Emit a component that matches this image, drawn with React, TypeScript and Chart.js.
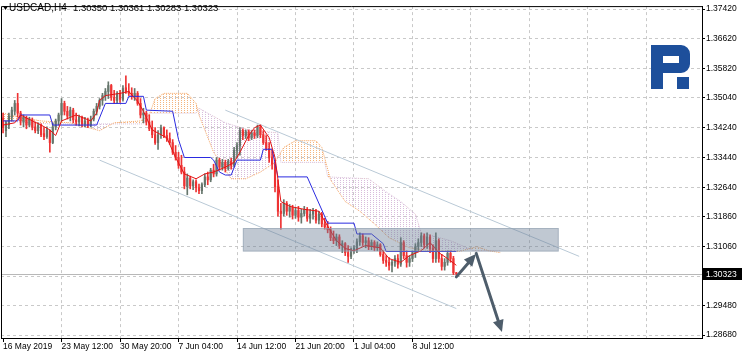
import React, { useEffect, useRef } from 'react';
import { Chart, registerables } from 'chart.js';

Chart.register(...registerables);

// ---- Header / axis text ----
const symbolLabel = 'USDCAD,H4';
const headerQuote = '1.30350 1.30361 1.30283 1.30323';
const lastPrice = 1.30323;
const lastPriceLabel = '1.30323';

// x axis: bar index ticks (one label every 20 bars)
const xTickIndex = [0, 20, 40, 60, 80, 100, 120, 140, 160, 180, 200, 220];
const xTickLabels = ['16 May 2019', '23 May 12:00', '30 May 20:00', '7 Jun 04:00', '14 Jun 12:00', '21 Jun 20:00', '1 Jul 04:00', '8 Jul 12:00'];

// y axis ticks (MT4 style)
const yTickValues = [1.3742, 1.3662, 1.3582, 1.3504, 1.3424, 1.3344, 1.3264, 1.3186, 1.3106, 1.3026, 1.2948, 1.2868];
const yTickLabels = ['1.37420', '1.36620', '1.35820', '1.35040', '1.34240', '1.33440', '1.32640', '1.31860', '1.31060', '', '1.29480', '1.28680'];

// ---- H4 bars ----
const opens = [
  1.3450, 1.3416, 1.3431, 1.3452, 1.3468, 1.3489, 1.3463, 1.3439, 1.3450, 1.3431,
  1.3445, 1.3426, 1.3416, 1.3431, 1.3408, 1.3400, 1.3416, 1.3384, 1.3426, 1.3442,
  1.3458, 1.3489, 1.3468, 1.3455, 1.3471, 1.3445, 1.3439, 1.3452, 1.3434, 1.3442,
  1.3431, 1.3447, 1.3468, 1.3481, 1.3497, 1.3510, 1.3521, 1.3537, 1.3505, 1.3497,
  1.3516, 1.3500, 1.3531, 1.3521, 1.3516, 1.3508, 1.3516, 1.3489, 1.3458, 1.3463,
  1.3439, 1.3421, 1.3405, 1.3384, 1.3405, 1.3424, 1.3403, 1.3395, 1.3384, 1.3358,
  1.3344, 1.3323, 1.3305, 1.3266, 1.3289, 1.3268, 1.3279, 1.3263, 1.3255, 1.3271,
  1.3292, 1.3284, 1.3310, 1.3300, 1.3337, 1.3318, 1.3331, 1.3315, 1.3334, 1.3323,
  1.3363, 1.3376, 1.3416, 1.3403, 1.3413, 1.3397, 1.3410, 1.3403, 1.3426, 1.3405,
  1.3384, 1.3368, 1.3344, 1.3326, 1.3266, 1.3200, 1.3194, 1.3221, 1.3200, 1.3210,
  1.3189, 1.3202, 1.3184, 1.3194, 1.3205, 1.3181, 1.3192, 1.3200, 1.3176, 1.3192,
  1.3166, 1.3158, 1.3150, 1.3129, 1.3121, 1.3131, 1.3108, 1.3113, 1.3089, 1.3079,
  1.3094, 1.3100, 1.3118, 1.3134, 1.3116, 1.3121, 1.3105, 1.3116, 1.3102, 1.3110,
  1.3084, 1.3068, 1.3063, 1.3055, 1.3063, 1.3073, 1.3058, 1.3116, 1.3081, 1.3063,
  1.3073, 1.3089, 1.3105, 1.3116, 1.3134, 1.3110, 1.3131, 1.3100, 1.3073, 1.3121,
  1.3073, 1.3052, 1.3063, 1.3087, 1.3073, 1.30350,
];
const highs = [
  1.3463, 1.3442, 1.3463, 1.3479, 1.3497, 1.3516, 1.3468, 1.3458, 1.3455, 1.3452,
  1.3450, 1.3439, 1.3437, 1.3434, 1.3424, 1.3426, 1.3418, 1.3437, 1.3447, 1.3463,
  1.3502, 1.3495, 1.3481, 1.3479, 1.3476, 1.3463, 1.3458, 1.3455, 1.3452, 1.3450,
  1.3455, 1.3474, 1.3489, 1.3502, 1.3516, 1.3529, 1.3547, 1.3540, 1.3524, 1.3521,
  1.3524, 1.3537, 1.3563, 1.3542, 1.3531, 1.3529, 1.3521, 1.3502, 1.3476, 1.3468,
  1.3458, 1.3442, 1.3424, 1.3416, 1.3431, 1.3426, 1.3418, 1.3410, 1.3392, 1.3376,
  1.3358, 1.3350, 1.3318, 1.3300, 1.3294, 1.3284, 1.3284, 1.3273, 1.3276, 1.3300,
  1.3305, 1.3315, 1.3326, 1.3344, 1.3342, 1.3339, 1.3337, 1.3339, 1.3342, 1.3371,
  1.3384, 1.3424, 1.3421, 1.3418, 1.3418, 1.3416, 1.3418, 1.3431, 1.3431, 1.3416,
  1.3403, 1.3384, 1.3363, 1.3331, 1.3284, 1.3221, 1.3231, 1.3226, 1.3218, 1.3216,
  1.3210, 1.3213, 1.3205, 1.3213, 1.3210, 1.3205, 1.3208, 1.3205, 1.3200, 1.3197,
  1.3181, 1.3173, 1.3158, 1.3147, 1.3139, 1.3137, 1.3121, 1.3116, 1.3108, 1.3102,
  1.3108, 1.3126, 1.3142, 1.3139, 1.3131, 1.3129, 1.3123, 1.3121, 1.3118, 1.3113,
  1.3094, 1.3081, 1.3076, 1.3068, 1.3081, 1.3084, 1.3129, 1.3121, 1.3094, 1.3081,
  1.3094, 1.3113, 1.3126, 1.3142, 1.3139, 1.3142, 1.3137, 1.3110, 1.3142, 1.3126,
  1.3084, 1.3073, 1.3094, 1.3094, 1.3079, 1.30361,
];
const lows = [
  1.3410, 1.3400, 1.3421, 1.3442, 1.3458, 1.3452, 1.3431, 1.3426, 1.3421, 1.3426,
  1.3418, 1.3410, 1.3408, 1.3400, 1.3392, 1.3395, 1.3358, 1.3381, 1.3418, 1.3431,
  1.3442, 1.3458, 1.3447, 1.3442, 1.3437, 1.3431, 1.3429, 1.3426, 1.3426, 1.3424,
  1.3426, 1.3442, 1.3458, 1.3474, 1.3484, 1.3497, 1.3502, 1.3497, 1.3489, 1.3489,
  1.3492, 1.3495, 1.3516, 1.3510, 1.3500, 1.3497, 1.3484, 1.3450, 1.3437, 1.3431,
  1.3416, 1.3397, 1.3379, 1.3366, 1.3395, 1.3397, 1.3387, 1.3379, 1.3352, 1.3337,
  1.3315, 1.3300, 1.3260, 1.3244, 1.3260, 1.3258, 1.3252, 1.3247, 1.3247, 1.3266,
  1.3271, 1.3279, 1.3292, 1.3294, 1.3310, 1.3310, 1.3305, 1.3310, 1.3313, 1.3318,
  1.3344, 1.3350, 1.3392, 1.3395, 1.3389, 1.3392, 1.3395, 1.3397, 1.3397, 1.3379,
  1.3363, 1.3331, 1.3313, 1.3252, 1.3187, 1.3152, 1.3187, 1.3189, 1.3184, 1.3179,
  1.3181, 1.3173, 1.3168, 1.3187, 1.3173, 1.3168, 1.3179, 1.3168, 1.3166, 1.3158,
  1.3152, 1.3142, 1.3121, 1.3113, 1.3108, 1.3100, 1.3089, 1.3081, 1.3063, 1.3073,
  1.3087, 1.3089, 1.3108, 1.3108, 1.3102, 1.3097, 1.3097, 1.3094, 1.3094, 1.3079,
  1.3060, 1.3052, 1.3042, 1.3037, 1.3052, 1.3047, 1.3052, 1.3073, 1.3050, 1.3052,
  1.3065, 1.3076, 1.3094, 1.3105, 1.3102, 1.3100, 1.3089, 1.3063, 1.3063, 1.3063,
  1.3042, 1.3042, 1.3055, 1.3063, 1.3030, 1.30283,
];
const closes = [
  1.3424, 1.3437, 1.3455, 1.3471, 1.3489, 1.3463, 1.3442, 1.3452, 1.3431, 1.3447,
  1.3426, 1.3416, 1.3431, 1.3405, 1.3400, 1.3418, 1.3384, 1.3426, 1.3442, 1.3458,
  1.3489, 1.3468, 1.3455, 1.3471, 1.3445, 1.3439, 1.3452, 1.3434, 1.3442, 1.3431,
  1.3447, 1.3468, 1.3481, 1.3497, 1.3510, 1.3521, 1.3537, 1.3505, 1.3497, 1.3516,
  1.3500, 1.3529, 1.3521, 1.3516, 1.3508, 1.3516, 1.3489, 1.3458, 1.3463, 1.3439,
  1.3421, 1.3405, 1.3384, 1.3405, 1.3424, 1.3403, 1.3395, 1.3384, 1.3358, 1.3344,
  1.3323, 1.3305, 1.3268, 1.3289, 1.3268, 1.3279, 1.3263, 1.3255, 1.3271, 1.3292,
  1.3284, 1.3310, 1.3300, 1.3337, 1.3318, 1.3331, 1.3315, 1.3334, 1.3323, 1.3363,
  1.3376, 1.3416, 1.3403, 1.3413, 1.3397, 1.3410, 1.3403, 1.3426, 1.3405, 1.3384,
  1.3368, 1.3344, 1.3326, 1.3266, 1.3200, 1.3194, 1.3221, 1.3200, 1.3210, 1.3189,
  1.3202, 1.3184, 1.3194, 1.3205, 1.3181, 1.3192, 1.3200, 1.3176, 1.3192, 1.3166,
  1.3158, 1.3150, 1.3129, 1.3121, 1.3131, 1.3108, 1.3113, 1.3089, 1.3079, 1.3094,
  1.3100, 1.3118, 1.3134, 1.3116, 1.3121, 1.3105, 1.3116, 1.3102, 1.3110, 1.3084,
  1.3068, 1.3063, 1.3055, 1.3063, 1.3073, 1.3058, 1.3116, 1.3081, 1.3063, 1.3073,
  1.3089, 1.3105, 1.3116, 1.3134, 1.3110, 1.3131, 1.3100, 1.3073, 1.3121, 1.3073,
  1.3052, 1.3063, 1.3087, 1.3073, 1.3035, 1.30323,
];

// ---- Ichimoku lines, [bar index, price] ----
const tenkanPoints = [
  [0, 1.3431], [4, 1.3437], [6, 1.3458], [8, 1.3450], [13, 1.3431], [16, 1.3418], [18, 1.3403], [20, 1.3442],
  [25, 1.3458], [30, 1.3442], [32, 1.3463], [33, 1.3497], [35, 1.3510], [40, 1.3516], [43, 1.3521], [46, 1.3495],
  [48, 1.3468], [51, 1.3418], [54, 1.3405], [56, 1.3397], [59, 1.3344], [62, 1.3300], [66, 1.3287], [69, 1.3300],
  [72, 1.3305], [76, 1.3318], [79, 1.3331], [81, 1.3358], [84, 1.3403], [86, 1.3424], [88, 1.3431], [91, 1.3397],
  [93, 1.3344], [95, 1.3226], [98, 1.3213], [103, 1.3205], [108, 1.3200], [111, 1.3160], [114, 1.3121], [117, 1.3100],
  [120, 1.3094], [124, 1.3108], [129, 1.3102], [132, 1.3073], [136, 1.3063], [139, 1.3081], [143, 1.3094], [146, 1.3116],
  [149, 1.3089], [152, 1.3073], [155, 1.3055],
];
const kijunPoints = [
  [0, 1.3442], [5, 1.3442], [6, 1.3458], [16, 1.3458], [17, 1.3431], [32, 1.3431], [35, 1.3489], [42, 1.3489],
  [43, 1.3508], [48, 1.3508], [49, 1.3471], [58, 1.3468], [60, 1.3392], [62, 1.3344], [71, 1.3344], [72, 1.3337],
  [74, 1.3305], [76, 1.3297], [78, 1.3297], [80, 1.3337], [88, 1.3337], [89, 1.3366], [92, 1.3366], [94, 1.3292],
  [104, 1.3292], [111, 1.3168], [120, 1.3168], [121, 1.3139], [126, 1.3139], [130, 1.3113], [131, 1.3092], [155, 1.3092],
];
const spanAPoints = [
  [0, 1.3463], [4, 1.3455], [13, 1.3442], [23, 1.3437], [33, 1.3416], [38, 1.3437], [47, 1.3442], [50, 1.3458],
  [52, 1.3502], [55, 1.3516], [63, 1.3516], [66, 1.3489], [67, 1.3458], [72, 1.3358], [78, 1.3287], [83, 1.3287],
  [88, 1.3305], [93, 1.3331], [96, 1.3371], [100, 1.3389], [107, 1.3389], [109, 1.3371], [112, 1.3284], [117, 1.3226],
  [122, 1.3200], [127, 1.3166], [132, 1.3129], [139, 1.3102], [146, 1.3094], [156, 1.3092], [162, 1.3105], [166, 1.3094],
  [170, 1.3089],
];
const spanBPoints = [
  [0, 1.3442], [16, 1.3434], [48, 1.3434], [50, 1.3463], [66, 1.3463], [67, 1.3476], [76, 1.3437], [84, 1.3418],
  [94, 1.3410], [95, 1.3331], [110, 1.3331], [111, 1.3292], [125, 1.3287], [131, 1.3252], [136, 1.3226], [141, 1.3192],
  [143, 1.3142], [153, 1.3121], [161, 1.3094], [170, 1.3094],
];

// ---- Drawing objects ----
const channelUpper = [[76, 1.3471], [197, 1.3079]];
const channelLower = [[33, 1.3337], [155, 1.2939]];
const zoneStart = 82;
const zoneEnd = 190;
const zoneTop = 1.3155;
const zoneBottom = 1.3092;
const arrowUp = [[155, 1.3024], [161.7, 1.3085]];
const arrowDown = [[161.8, 1.3087], [170.6, 1.2876]];

const BULL = '#66766c';
const BEAR = '#ee3333';

const pts = (arr: number[][]) => arr.map(([x, y]) => ({ x, y }));

const overlayPlugin = {
  id: 'overlay',
  beforeDatasetsDraw(chart: any) {
    const { ctx, chartArea, scales } = chart;
    const yp = Math.round(scales.y.getPixelForValue(lastPrice)) + 0.5;
    ctx.save();
    ctx.strokeStyle = '#b8b8b8';
    ctx.lineWidth = 1;
    ctx.beginPath();
    ctx.moveTo(chartArea.left, yp);
    ctx.lineTo(chartArea.right, yp);
    ctx.stroke();
    ctx.restore();
  },
  afterDatasetsDraw(chart: any) {
    const { ctx, chartArea, scales } = chart;
    const X = (v: number) => scales.x.getPixelForValue(v);
    const Y = (v: number) => scales.y.getPixelForValue(v);
    ctx.save();
    ctx.beginPath();
    ctx.rect(chartArea.left, chartArea.top, chartArea.width, chartArea.height);
    ctx.clip();
    // zone rectangle
    const x0 = X(zoneStart), x1 = X(zoneEnd), y0 = Y(zoneTop), y1 = Y(zoneBottom);
    ctx.fillStyle = 'rgba(105,125,148,0.42)';
    ctx.fillRect(x0, y0, x1 - x0, y1 - y0);
    ctx.strokeStyle = 'rgba(150,165,180,0.6)';
    ctx.lineWidth = 1;
    ctx.strokeRect(x0 + 0.5, y0 + 0.5, x1 - x0 - 1, y1 - y0 - 1);
    // arrows
    const drawArrow = (seg: number[][]) => {
      const ax = X(seg[0][0]), ay = Y(seg[0][1]);
      const bx = X(seg[1][0]), by = Y(seg[1][1]);
      const ang = Math.atan2(by - ay, bx - ax);
      const head = 12, half = 5.5;
      const hx = bx - Math.cos(ang) * head, hy = by - Math.sin(ang) * head;
      ctx.strokeStyle = '#4e5d6b';
      ctx.fillStyle = '#4e5d6b';
      ctx.lineWidth = 3;
      ctx.lineCap = 'round';
      ctx.beginPath();
      ctx.moveTo(ax, ay);
      ctx.lineTo(hx, hy);
      ctx.stroke();
      ctx.beginPath();
      ctx.moveTo(bx, by);
      ctx.lineTo(hx + Math.cos(ang + Math.PI / 2) * half, hy + Math.sin(ang + Math.PI / 2) * half);
      ctx.lineTo(hx + Math.cos(ang - Math.PI / 2) * half, hy + Math.sin(ang - Math.PI / 2) * half);
      ctx.closePath();
      ctx.fill();
    };
    drawArrow(arrowUp);
    drawArrow(arrowDown);
    ctx.restore();

    // logo
    ctx.save();
    ctx.fillStyle = '#1d4f9b';
    ctx.beginPath();
    ctx.moveTo(651, 45);
    ctx.lineTo(681, 45);
    ctx.arcTo(690, 45, 690, 54, 9);
    ctx.lineTo(690, 64);
    ctx.arcTo(690, 73, 681, 73, 9);
    ctx.lineTo(663, 73);
    ctx.lineTo(663, 89);
    ctx.lineTo(651, 89);
    ctx.closePath();
    ctx.fill();
    ctx.fillStyle = '#ffffff';
    ctx.fillRect(663, 56, 16, 7);
    ctx.fillStyle = '#1d4f9b';
    ctx.fillRect(677, 77, 12, 12);
    ctx.restore();
  },
  afterDraw(chart: any) {
    const { ctx, chartArea, scales } = chart;
    ctx.save();
    // frame
    ctx.strokeStyle = '#000';
    ctx.lineWidth = 1;
    ctx.beginPath();
    ctx.moveTo(chartArea.left + 0.5, chartArea.bottom);
    ctx.lineTo(chartArea.left + 0.5, chartArea.top + 0.5);
    ctx.lineTo(chartArea.right, chartArea.top + 0.5);
    ctx.stroke();
    // header
    ctx.fillStyle = '#000';
    ctx.beginPath();
    ctx.moveTo(3, 6);
    ctx.lineTo(8, 6);
    ctx.lineTo(5.5, 10);
    ctx.closePath();
    ctx.fill();
    ctx.textBaseline = 'middle';
    ctx.textAlign = 'left';
    ctx.font = '10px "Liberation Sans"';
    ctx.fillText(symbolLabel, 9, 8.5);
    ctx.font = '9.5px "Liberation Sans"';
    ctx.fillText(headerQuote, 73, 8.5);
    // last price box
    const yp = Math.round(scales.y.getPixelForValue(lastPrice));
    ctx.fillStyle = '#000';
    ctx.fillRect(chartArea.right, yp - 6, 40, 12);
    ctx.fillStyle = '#fff';
    ctx.font = '8.5px "Liberation Sans"';
    ctx.fillText(lastPriceLabel, chartArea.right + 4, yp + 0.5);
    ctx.restore();
  },
};

export default function App() {
  const ref = useRef<HTMLCanvasElement>(null);

  useEffect(() => {
    document.body.style.margin = '0';
    const canvas = ref.current as HTMLCanvasElement;
    const ctx2d = canvas.getContext('2d') as CanvasRenderingContext2D;
    const makePattern = (color: string) => {
      const c = document.createElement('canvas');
      c.width = 3;
      c.height = 2;
      const g = c.getContext('2d') as CanvasRenderingContext2D;
      g.fillStyle = color;
      g.fillRect(1, 0, 1, 1);
      return ctx2d.createPattern(c, 'repeat') as CanvasPattern;
    };
    const bullCloud = makePattern('#f5b57e');
    const bearCloud = makePattern('#d8bcdb');

    const idx = opens.map((_, i) => i);
    const colors = idx.map((i) => (closes[i] >= opens[i] ? BULL : BEAR));
    const wickData = idx.map((i) => ({ x: i, y: [lows[i], highs[i]] }));
    const bodyData = idx.map((i) => ({ x: i, y: [Math.min(opens[i], closes[i]), Math.max(opens[i], closes[i])] }));

    Chart.defaults.font.family = '"Liberation Sans", Arial, sans-serif';

    const chart = new Chart(canvas, {
      type: 'bar',
      data: {
        datasets: [
          {
            type: 'line',
            label: 'Senkou Span A',
            data: pts(spanAPoints),
            borderColor: '#f4a460',
            borderWidth: 1,
            borderDash: [1, 1],
            pointRadius: 0,
            tension: 0,
            fill: { target: '+1', above: bullCloud, below: bearCloud },
            order: 6,
          } as any,
          {
            type: 'line',
            label: 'Senkou Span B',
            data: pts(spanBPoints),
            borderColor: '#d8bfd8',
            borderWidth: 1,
            borderDash: [1, 1],
            pointRadius: 0,
            tension: 0,
            fill: false,
            order: 6,
          } as any,
          {
            type: 'line',
            label: 'Channel upper',
            data: pts(channelUpper),
            borderColor: '#b9c9d6',
            borderWidth: 1,
            pointRadius: 0,
            fill: false,
            order: 5,
          } as any,
          {
            type: 'line',
            label: 'Channel lower',
            data: pts(channelLower),
            borderColor: '#b9c9d6',
            borderWidth: 1,
            pointRadius: 0,
            fill: false,
            order: 5,
          } as any,
          {
            type: 'bar',
            label: 'High-Low',
            data: wickData,
            backgroundColor: colors,
            borderWidth: 0,
            barThickness: 1,
            grouped: false,
            order: 3,
          } as any,
          {
            type: 'bar',
            label: 'Open-Close',
            data: bodyData,
            backgroundColor: colors,
            borderWidth: 0,
            barThickness: 1.5,
            grouped: false,
            order: 3,
          } as any,
          {
            type: 'line',
            label: 'Kijun-sen',
            data: pts(kijunPoints),
            borderColor: '#2a2ae0',
            borderWidth: 1,
            pointRadius: 0,
            tension: 0,
            fill: false,
            order: 2,
          } as any,
          {
            type: 'line',
            label: 'Tenkan-sen',
            data: pts(tenkanPoints),
            borderColor: '#e31414',
            borderWidth: 1,
            pointRadius: 0,
            tension: 0,
            fill: false,
            order: 1,
          } as any,
        ],
      },
      options: {
        responsive: false,
        animation: false,
        devicePixelRatio: 1,
        events: [],
        layout: { padding: { left: 1, top: 1, right: 0, bottom: 0 } },
        plugins: { legend: { display: false }, tooltip: { enabled: false } },
        scales: {
          x: {
            type: 'linear',
            min: -0.7,
            max: 239.0,
            offset: false,
            bounds: 'data',
            afterBuildTicks: (s: any) => {
              s.ticks = xTickIndex.map((v) => ({ value: v }));
            },
            afterFit: (s: any) => {
              s.height = 15;
            },
            ticks: {
              autoSkip: false,
              maxRotation: 0,
              minRotation: 0,
              align: 'start',
              padding: 0,
              color: '#000',
              font: { size: 8.5 },
              callback: (_v: any, i: number) => (i < xTickLabels.length ? xTickLabels[i] : ''),
            },
            grid: {
              offset: false,
              color: (c: any) => (c.tick && c.tick.value === 0 ? 'rgba(0,0,0,0)' : '#c9c9c9'),
              tickColor: (c: any) => (c.index < xTickLabels.length ? '#000' : 'rgba(0,0,0,0)'),
              tickLength: 4,
              drawTicks: true,
            },
            border: { display: true, color: '#000', dash: [3, 3] },
          },
          y: {
            type: 'linear',
            position: 'right',
            min: 1.28601,
            max: 1.37499,
            bounds: 'data',
            afterBuildTicks: (s: any) => {
              s.ticks = yTickValues.map((v) => ({ value: v }));
            },
            afterFit: (s: any) => {
              s.width = 40;
            },
            ticks: {
              autoSkip: false,
              padding: 1,
              color: '#000',
              font: { size: 8.5 },
              callback: (_v: any, i: number) => yTickLabels[i],
            },
            grid: {
              color: '#c9c9c9',
              tickColor: '#000',
              tickLength: 3,
              drawTicks: true,
            },
            border: { display: true, color: '#000', dash: [3, 3] },
          },
        },
      } as any,
      plugins: [overlayPlugin],
    });

    return () => chart.destroy();
  }, []);

  return (
    <div style={{ position: 'absolute', left: 0, top: 0, width: 742, height: 353, background: '#fff' }}>
      <canvas ref={ref} width={742} height={353} style={{ display: 'block' }} />
    </div>
  );
}
